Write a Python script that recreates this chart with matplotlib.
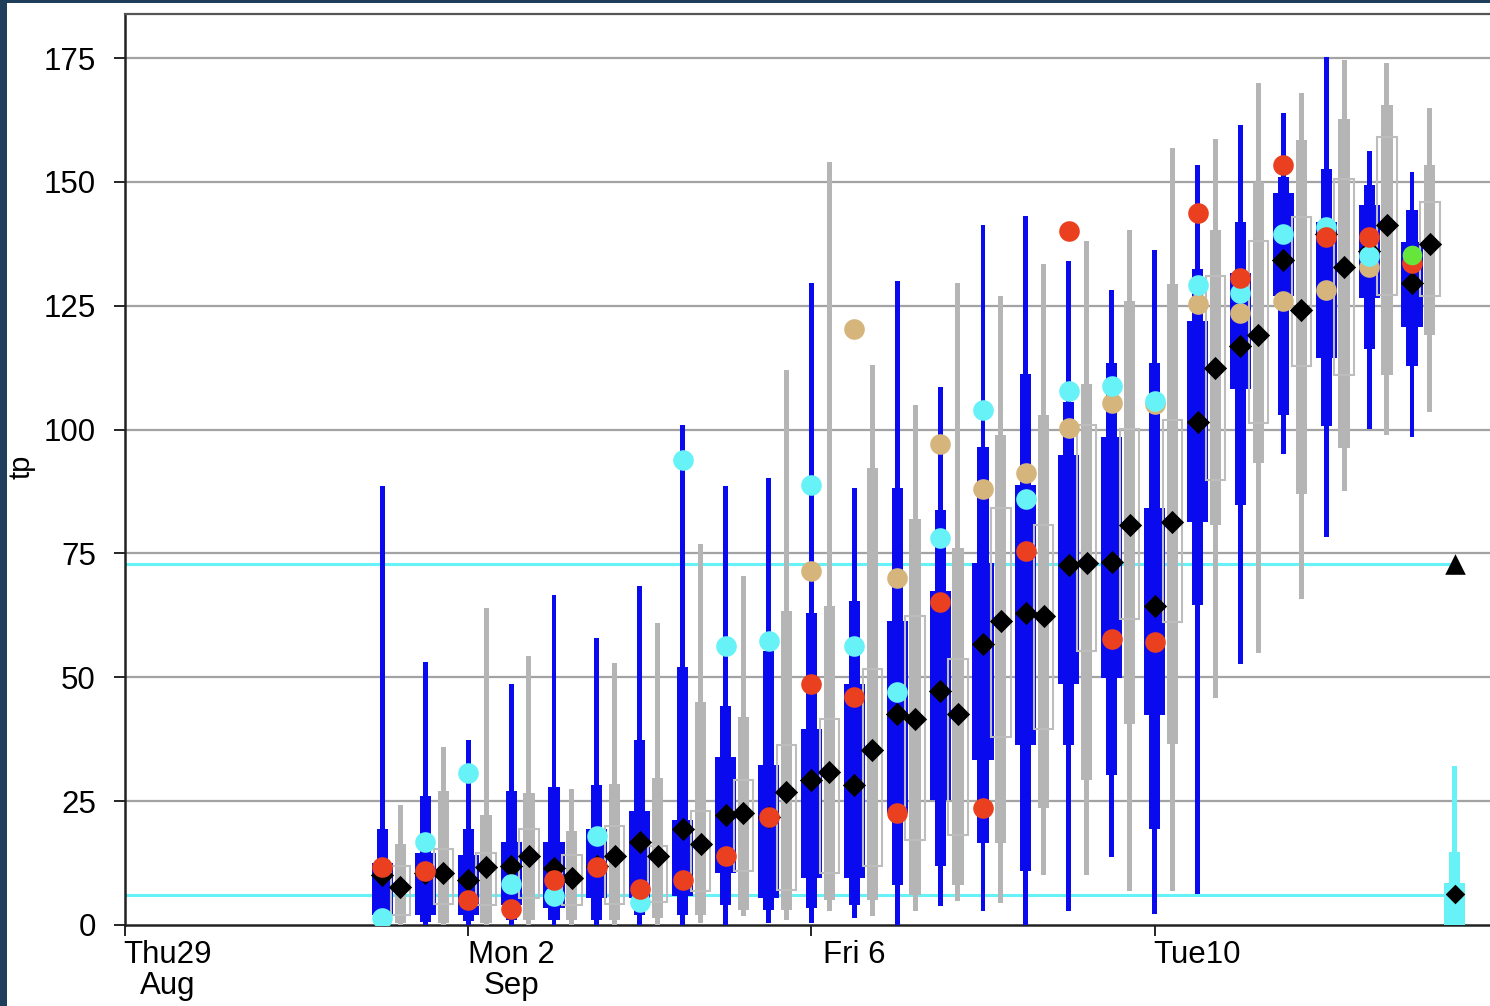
import numpy as np
import pandas as pd
import matplotlib
matplotlib.use('Agg')
import matplotlib.pyplot as plt
import matplotlib.dates as mdates
from matplotlib.patches import Rectangle

plt.rcParams['font.family'] = ['Liberation Sans', 'DejaVu Sans']

# --- data ---
run_times = pd.date_range('2019-09-01 00:00', periods=25, freq='12h')
gray_lag = pd.Timedelta(hours=5)

# blue ensemble: min, p10, q1, q3, p90, max, median
blue_lo = [0, 0, 0, 0, 0, 0, 0, 0, 0, 0.4, 0.4, 1.5, 0, 3.9, 2.8, 0, 2.8, 13.7, 2.2, 6.3, 52.7, 95, 78.4, 100.1, 98.5]
blue_p10 = [1, 0.6, 0.8, 1, 1, 1, 2, 2, 4, 3, 3.5, 4, 8, 12, 16.6, 11, 36.4, 30.3, 19.4, 64.6, 84.7, 103, 100.7, 116.3, 112.8]
blue_q1 = [2, 2, 2, 4, 3.5, 5.4, 5.4, 5.9, 10.5, 5.4, 9.5, 9.5, 22.7, 25.2, 33.4, 36.4, 48.6, 49.8, 42.4, 81.3, 108.2, 127, 114.4, 126.6, 120.8]
blue_q3 = [12.5, 14.5, 14.2, 16.8, 16.8, 19.4, 23, 21.2, 34, 32.3, 39.6, 48.6, 61.4, 67.4, 73, 88.8, 94.9, 98.5, 84.2, 121.9, 131.7, 147.8, 142, 145.4, 137.9]
blue_p90 = [19.4, 26, 19.4, 27, 27.9, 28.2, 37.3, 52, 44.3, 55.3, 63, 65.4, 88.3, 83.8, 96.4, 111.2, 105.6, 113.4, 113.4, 132.4, 142, 151, 152.6, 149.4, 144.3]
blue_hi = [88.7, 53, 37.3, 48.7, 66.7, 58, 68.5, 101, 88.7, 90.3, 129.5, 88.3, 130, 108.6, 141.2, 143.2, 134, 128.2, 136.3, 153.5, 161.5, 164, 175.2, 156.3, 152]
blue_med = [10, 10.5, 9.1, 12, 11.5, 12, 16.8, 19.4, 22.3, 21.7, 29.3, 28.3, 42.6, 47.3, 56.7, 62.9, 72.7, 73.3, 64.4, 101.6, 116.8, 134.2, 139.5, 136, 129.6]

# gray ensemble: min, p10, q1, q3, p90, max, median
gray_lo = [0, 0, 0, 0, 0, 0, 0, 0.5, 1.8, 1, 2.8, 1.8, 2.8, 4.8, 4.4, 10, 10, 6.9, 6.9, 45.8, 54.9, 65.8, 87.6, 99, 103.6]
gray_p10 = [0.5, 0.5, 0.5, 1, 1, 1, 1.5, 2, 3, 3, 5, 5, 6, 8, 16.6, 23.7, 29.3, 40.6, 36.6, 80.7, 93.2, 87, 96.2, 111, 119]
gray_q1 = [2, 4.2, 4, 5.4, 4, 4.3, 4.6, 6.9, 11, 7, 10.5, 12, 17.2, 18.2, 37.9, 39.6, 55.3, 61.8, 61.2, 89.8, 101.3, 112.8, 111, 127.1, 127]
gray_q3 = [12, 15.3, 14.5, 19.4, 14.2, 20, 16, 23, 29.3, 36.4, 41.6, 51.7, 62.4, 53.7, 84.2, 80.7, 101, 100.1, 102, 131, 138, 143, 150.6, 159, 146]
gray_p90 = [16.4, 27, 22.3, 26.6, 19, 28.5, 29.7, 45, 42, 63.4, 64.4, 92.3, 82, 76, 99, 103, 109.2, 126, 129.4, 140.3, 150, 158.4, 162.6, 165.5, 153.4]
gray_hi = [24.2, 36, 64, 54.3, 27.5, 52.8, 61, 77, 70.5, 112, 154, 113, 105, 129.5, 127, 133.5, 138.1, 140.3, 156.9, 158.6, 170, 168, 174.6, 174, 165]
gray_med = [7.7, 10.5, 11.7, 13.9, 9.5, 13.9, 13.9, 16.4, 22.7, 26.8, 30.9, 35.4, 41.6, 42.6, 61.4, 62.4, 73, 80.7, 81.3, 112.4, 119, 124.2, 132.8, 141.4, 137.4]

# single-run forecasts at the blue run times
nan = np.nan
red_vals = [11.7, 10.9, 5, 3.2, 9.1, 11.7, 7.3, 9.1, 13.9, 21.7, 48.6, 46, 22.7, 65.1, 23.7, 75.5, 140.1, 57.8, 57.2, 143.7, 130.6, 153.5, 138.8, 138.9, 133.7]
cyan_vals = [1.4, 16.8, 30.7, 8.3, 5.9, 18, 4.6, 93.9, 56.4, 57.3, 88.8, 56.3, 47.1, 78.1, 104, 86, 107.8, 108.8, 105.7, 129.2, 127.6, 139.5, 140.9, 135.1, nan]
tan_vals = [nan, nan, nan, nan, nan, nan, nan, nan, nan, nan, 71.5, 120.3, 70, 97, 88, 91.3, 100.3, 105.4, 105.2, 125.4, 123.6, 126, 128.2, 132.8, nan]
green_vals = [nan] * 24 + [135.3]

# observation / climate
obs_time = pd.Timestamp('2019-09-13 12:00')
obs_stats = [0, 0, 0, 8.5, 14.8, 32]   # min, p10, q1, q3, p90, max
obs_med = 6.3
obs_value = 72.9
ref_levels = [72.9, 6.0]

tick_days = pd.to_datetime(['2019-08-29', '2019-09-02', '2019-09-06', '2019-09-10'])
tick_labels = ['Thu29\nAug', 'Mon 2\nSep', 'Fri 6', 'Tue10']

# --- styling ---
BLUE = '#0a0aee'
GRAY = '#b5b5b5'
GRAY_EDGE = '#bdbdbd'
RED = '#ea4020'
CYAN = '#66f2f6'
TAN = '#d6b57c'
GREEN = '#66e63a'
W_THIN, W_MID, W_BOX = 0.058, 0.13, 0.245

fig = plt.figure(figsize=(14.9, 10.06), dpi=100)
fig.patch.set_facecolor('#1e3e5b')
fig.patches.append(Rectangle((7 / 1490, 0), 1, 1 - 3 / 1006, transform=fig.transFigure,
                             facecolor='white', edgecolor='none', zorder=-10))
ax = fig.add_axes([125 / 1490, 81 / 1006, 1 - 125 / 1490, (925 - 14) / 1006])
ax.set_facecolor('white')

xb = mdates.date2num(run_times)
xg = mdates.date2num(run_times + gray_lag)
xo = mdates.date2num(obs_time)


def blue_box(x, lo, p10, q1, q3, p90, hi, color=BLUE):
    ax.bar(x, hi - lo, bottom=lo, width=W_THIN, color=color, zorder=3)
    ax.bar(x, p90 - p10, bottom=p10, width=W_MID, color=color, zorder=3)
    ax.bar(x, q3 - q1, bottom=q1, width=W_BOX, color=color, zorder=3)


def gray_box(x, lo, p10, q1, q3, p90, hi):
    ax.bar(x, hi - lo, bottom=lo, width=W_THIN, color=GRAY, zorder=3)
    ax.bar(x, p90 - p10, bottom=p10, width=W_MID, color=GRAY, zorder=3)
    ax.bar(x, q3 - q1, bottom=q1, width=W_BOX * 0.92, facecolor='none',
           edgecolor=GRAY_EDGE, linewidth=1.5, zorder=3)


for i in range(len(run_times)):
    blue_box(xb[i], blue_lo[i], blue_p10[i], blue_q1[i], blue_q3[i], blue_p90[i], blue_hi[i])
    gray_box(xg[i], gray_lo[i], gray_p10[i], gray_q1[i], gray_q3[i], gray_p90[i], gray_hi[i])

blue_box(xo, *obs_stats, color=CYAN)

ax.scatter(xb, blue_med, marker='D', s=140, color='black', zorder=5, linewidths=0)
ax.scatter(xg, gray_med, marker='D', s=140, color='black', zorder=5, linewidths=0)
ax.scatter([xo], [obs_med], marker='D', s=100, color='black', zorder=5, linewidths=0)

ax.scatter(xb, tan_vals, s=220, color=TAN, zorder=6, linewidths=0)
ax.scatter(xb, cyan_vals, s=220, color=CYAN, zorder=7, linewidths=0)
ax.scatter(xb, red_vals, s=220, color=RED, zorder=8, linewidths=0)
ax.scatter(xb, green_vals, s=200, color=GREEN, zorder=9, linewidths=0)

x_left = mdates.date2num(tick_days[0])
x_right = x_left + (1490 - 125) / 85.8
for lev in ref_levels:
    ax.plot([x_left, xo], [lev, lev], color=CYAN, linewidth=2.2, zorder=2)
ax.scatter([xo], [obs_value], marker='^', s=220, color='black', zorder=10, linewidths=0)

# grid
for v in range(25, 176, 25):
    ax.axhline(v, color='#a3a3a3', linewidth=1.6, zorder=1)

ax.set_xlim(x_left, x_right)
ax.set_ylim(0, (925 - 14) / 4.954)
ax.set_yticks(range(0, 176, 25))
ax.tick_params(axis='y', labelsize=22.5, length=8, width=1.2, pad=13, colors='black')

ax.set_xticks(mdates.date2num(tick_days))
ax.set_xticklabels([])
ax.set_xticks(mdates.date2num(tick_days) + 0.5, minor=True)
ax.set_xticklabels(tick_labels, minor=True, fontsize=22.5, linespacing=1.05)
ax.tick_params(axis='x', which='major', length=8, width=1.2)
ax.tick_params(axis='x', which='minor', length=0, pad=11)

for side in ['left', 'bottom']:
    ax.spines[side].set_linewidth(1.8)
    ax.spines[side].set_color('#222222')
ax.spines['top'].set_linewidth(1.6)
ax.spines['top'].set_color('#555555')
ax.spines['right'].set_visible(False)

fig.text(22 / 1490, 1 - 467 / 1006, 'tp', rotation=90, ha='center', va='center', fontsize=21)

fig.savefig('out.png', dpi=100, facecolor=fig.get_facecolor())
